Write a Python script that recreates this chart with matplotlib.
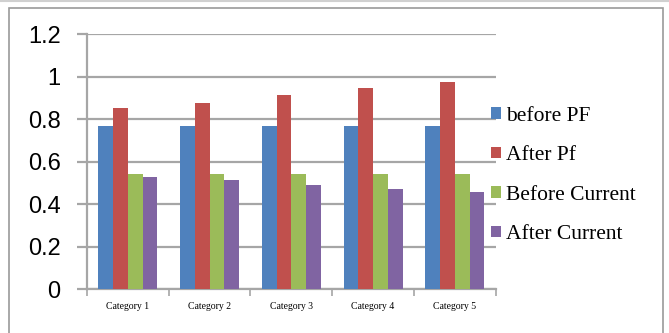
import numpy as np
import matplotlib
matplotlib.use("Agg")
import matplotlib.pyplot as plt
from matplotlib.patches import Rectangle

categories = ["Category 1", "Category 2", "Category 3", "Category 4", "Category 5"]
before_pf = [0.77, 0.77, 0.77, 0.77, 0.77]
after_pf = [0.855, 0.878, 0.914, 0.946, 0.977]
before_current = [0.543, 0.543, 0.543, 0.543, 0.543]
after_current = [0.527, 0.514, 0.491, 0.472, 0.459]

series = [("before PF", before_pf, "#4F81BD"),
          ("After Pf", after_pf, "#C0504D"),
          ("Before Current", before_current, "#9BBB59"),
          ("After Current", after_current, "#8064A2")]

fig = plt.figure(figsize=(6.69, 3.33), dpi=100)
# outer chart frame
fig.patches.append(Rectangle((0.013, -0.1), 0.978, 1.075, transform=fig.transFigure,
                             fill=False, edgecolor="#9a9a9a", linewidth=1.2))
fig.add_artist(plt.Line2D([0, 1], [0.996, 0.996], transform=fig.transFigure,
                          color="#d0d0d0", linewidth=1.5))

ax = fig.add_axes([0.130, 0.131, 0.611, 0.766])

x = np.arange(len(categories))
width = 0.18
for i, (name, vals, col) in enumerate(series):
    ax.bar(x + (i - 1.5) * width, vals, width, color=col, label=name, zorder=3)

ax.set_xlim(-0.5, len(categories) - 0.5)
ax.set_ylim(0, 1.2)
ax.set_yticks([0, 0.2, 0.4, 0.6, 0.8, 1, 1.2])
ax.set_yticklabels(["0", "0.2", "0.4", "0.6", "0.8", "1", "1.2"],
                   family="Liberation Sans", fontsize=17)
ax.yaxis.grid(True, color="#a6a6a6", linewidth=1.6, zorder=0)
ax.tick_params(axis="y", length=7, width=1.6, color="#a6a6a6", pad=12)

# category ticks sit between groups
ax.set_xticks(x)
ax.set_xticklabels(categories, family="Liberation Serif", fontsize=7)
ax.set_xticks(np.arange(len(categories) + 1) - 0.5, minor=True)
ax.tick_params(axis="x", which="major", length=0, pad=9)
ax.tick_params(axis="x", which="minor", length=5, width=1.2, color="#a6a6a6")

for s in ["top", "right"]:
    ax.spines[s].set_visible(False)
ax.spines["left"].set_color("#a6a6a6")
ax.spines["left"].set_linewidth(1.6)
ax.spines["bottom"].set_color("#a6a6a6")
ax.spines["bottom"].set_linewidth(1.6)

leg = ax.legend(loc="center left", bbox_to_anchor=(0.718, 0.473),
                bbox_transform=fig.transFigure, frameon=False,
                prop={"family": "Liberation Serif", "size": 15.5},
                handlelength=0.45, handleheight=0.45, handletextpad=0.25,
                labelspacing=0.95, borderpad=0)

fig.savefig("out.png", dpi=100)
